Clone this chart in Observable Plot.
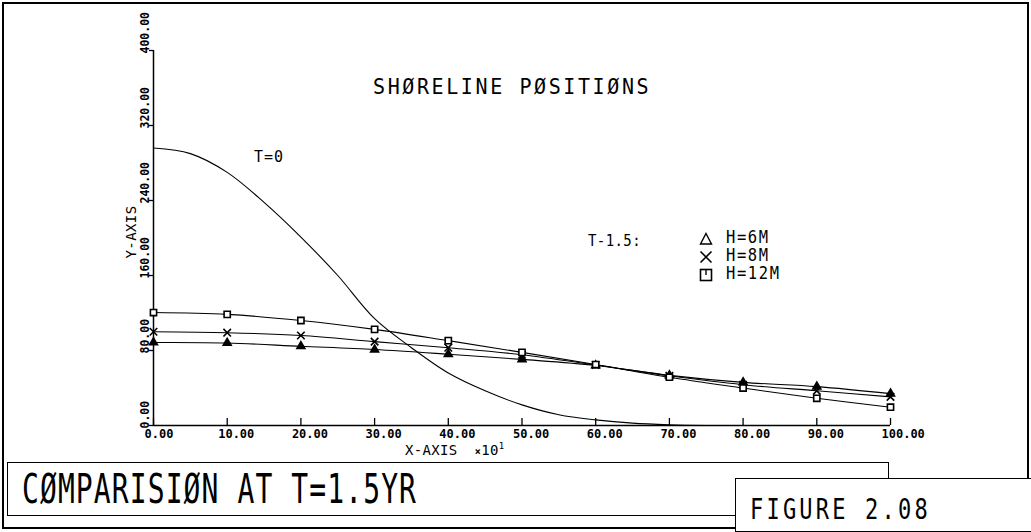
<!DOCTYPE html>
<html><head><meta charset="utf-8">
<script src="https://cdn.jsdelivr.net/npm/d3@7"></script>
<script src="https://cdn.jsdelivr.net/npm/@observablehq/plot@0.6"></script>
<style>
html,body{margin:0;padding:0;background:#fff;}
#wrap{position:relative;width:1031px;height:532px;overflow:hidden;background:#fff;font-family:"DejaVu Sans Mono",monospace;color:#000;}
#chart{position:absolute;left:0;top:0;}
.t{position:absolute;white-space:nowrap;line-height:1;transform-origin:left center;}
.ln{position:absolute;background:#000;}
.box{position:absolute;border:1.5px solid #000;box-sizing:border-box;}
</style></head><body>
<div id="wrap"><div id="chart"></div></div>
<script>
// ---- data ----
const xPositions = [0, 10, 20, 30, 40, 50, 60, 70, 80, 90, 100];
const h6M  = [88.5, 88, 84.5, 81, 76, 70.5, 64, 53.5, 46, 41.5, 34];
const h8M  = [100, 99, 96, 89.5, 83, 75.5, 64.5, 53, 43.5, 37, 30.5];
const h12M = [120.5, 118.5, 112, 102.5, 90.5, 78, 65, 51.5, 40, 29, 19.5];
const t0X = [0, 5, 10, 15, 20, 25, 30, 35, 40, 45, 50, 55, 60, 65, 70, 75];
const t0Y = [296, 290, 270, 238, 201, 160, 114, 83, 56, 37, 22, 11.5, 6, 2.5, 0.8, 0];
const xTicks = [0, 10, 20, 30, 40, 50, 60, 70, 80, 90, 100];
const yTicks = [0, 80, 160, 240, 320, 400];
const seriesNames = ["H=6M", "H=8M", "H=12M"];

const rows = [];
xPositions.forEach((x, i) => {
  rows.push({x, y: h6M[i], s: "H=6M"});
  rows.push({x, y: h8M[i], s: "H=8M"});
  rows.push({x, y: h12M[i], s: "H=12M"});
});
const t0 = t0X.map((x, i) => ({x, y: t0Y[i]}));

const plot = Plot.plot({
  width: 1031, height: 460,
  marginLeft: 153, marginRight: 141, marginTop: 50, marginBottom: 35,
  x: {domain: [0, 100]},
  y: {domain: [0, 400]},
  style: {background: "transparent", fontFamily: "DejaVu Sans Mono", color: "#000"},
  marks: [
    Plot.ruleY([0], {stroke: "#000", strokeWidth: 1.5}),
    Plot.ruleX([0], {stroke: "#000", strokeWidth: 1.5}),
    Plot.axisX({ticks: xTicks, tickSize: 7, dy: -7, tickFormat: () => "", label: null, strokeWidth: 1.3}),
    Plot.axisY({ticks: yTicks, tickSize: 4, tickFormat: () => "", label: null, strokeWidth: 1.3}),
    Plot.text(xTicks, {x: d => d, text: d => d.toFixed(2), frameAnchor: "bottom", dy: 12, dx: -9, textAnchor: "start", fontSize: 12, fontWeight: "bold"}),
    Plot.text(yTicks, {y: d => d, text: d => d.toFixed(2), frameAnchor: "left", dx: -8, dy: 3, rotate: -90, textAnchor: "start", fontSize: 11.5, fontWeight: "bold"}),
    Plot.line(t0, {x: "x", y: "y", curve: "catmull-rom", stroke: "#000", strokeWidth: 1.1}),
    Plot.line(rows, {x: "x", y: "y", z: "s", curve: "catmull-rom", stroke: "#000", strokeWidth: 1.1}),
    Plot.dot(rows.filter(d => d.s === "H=6M"), {x: "x", y: "y", symbol: "triangle", r: 3, fill: "#000", stroke: "#000"}),
    Plot.dot(rows.filter(d => d.s === "H=8M"), {x: "x", y: "y", symbol: "times", r: 3.5, stroke: "#000", strokeWidth: 1.6}),
    Plot.dot(rows.filter(d => d.s === "H=12M"), {x: "x", y: "y", symbol: "square", r: 3.5, fill: "#fff", stroke: "#000", strokeWidth: 1.6})
  ]
});
document.getElementById("chart").appendChild(plot);

const wrap = document.getElementById("wrap");
function line(l, t, w, h) {
  const d = document.createElement("div"); d.className = "ln";
  Object.assign(d.style, {left: l + "px", top: t + "px", width: w + "px", height: h + "px"});
  wrap.appendChild(d);
}
function box(l, t, w, h, bg) {
  const d = document.createElement("div"); d.className = "box";
  Object.assign(d.style, {left: l + "px", top: t + "px", width: w + "px", height: h + "px", background: bg || "transparent"});
  wrap.appendChild(d); return d;
}
function text(str, x, yc, size, ls, sy, extra) {
  const d = document.createElement("div"); d.className = "t";
  d.innerHTML = str;
  Object.assign(d.style, {left: x + "px", top: (yc - size / 2) + "px", fontSize: size + "px", letterSpacing: ls + "px",
    transform: `scaleY(${sy})`}, extra || {});
  wrap.appendChild(d); return d;
}
// outer frame
line(2, 2, 1027, 1.5);
line(2, 2, 1.5, 527);
line(1027, 2, 1.5, 477);
line(2, 527, 734, 1.5);
// caption boxes
box(7, 462, 882, 54);
box(735, 478, 310, 54, "#fff");

text("SHØRELINE PØSITIØNS", 373, 86, 20, 2.6, 1.1);
text("T=0", 254, 157, 15, 1, 1.05);
text("T-1.5:", 588, 240, 14, 0.4, 1.1);
const legY = [239, 257, 275];
const sym = [
  '<svg width="14" height="14" style="display:block"><path d="M7,1.5L12.5,12H1.5Z" fill="none" stroke="#000" stroke-width="1.4"/></svg>',
  '<svg width="14" height="14" style="display:block"><path d="M1.5,1.5L12.5,12.5M12.5,1.5L1.5,12.5" stroke="#000" stroke-width="1.6"/></svg>',
  '<svg width="14" height="14" style="display:block"><rect x="1.5" y="1.5" width="11" height="11" fill="none" stroke="#000" stroke-width="1.6"/><path d="M7,1.5V7" stroke="#000" stroke-width="1.4"/></svg>'
];
seriesNames.forEach((s, i) => {
  const d = document.createElement("div");
  d.className = "t"; d.innerHTML = sym[i];
  Object.assign(d.style, {left: "699px", top: (legY[i] - 7) + "px", height: "14px"});
  wrap.appendChild(d);
  text(s, 726, legY[i], 15.5, 1.6, 1.1);
});
text("Y-AXIS", 0, 0, 14, 0.4, 1, {left: "131px", top: "232px", transform: "translate(-50%,-50%) rotate(-90deg)", transformOrigin: "center center"});
text('X-AXIS&nbsp;&nbsp;<span style="font-size:10px;font-weight:bold">×</span>10<sup style="font-size:9px">1</sup>', 405, 449, 14, 0.3, 1);
text("CØMPARISIØN AT T=1.5YR", 22, 490, 28, 1.1, 1.45);
text("FIGURE 2.08", 750, 510, 22, 3.2, 1.25);
</script>
</body></html>
